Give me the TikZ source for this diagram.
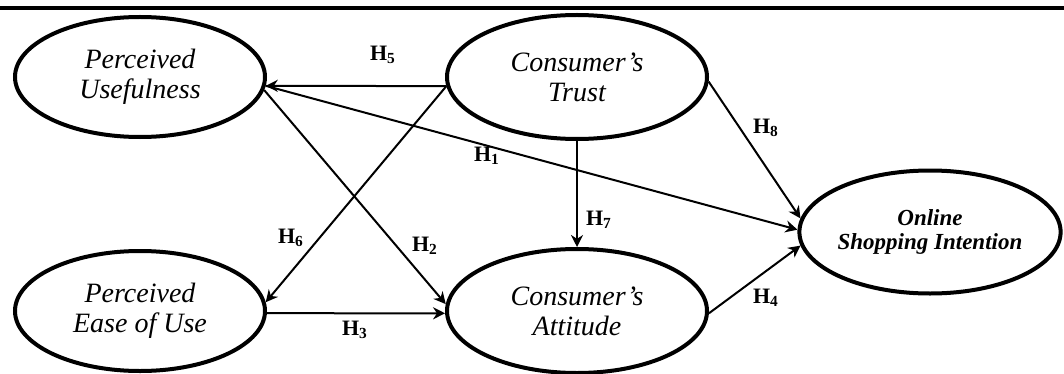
\documentclass[tikz,border=0pt]{standalone}
\usepackage{fontspec}
\setmainfont{Liberation Serif}
\usetikzlibrary{shapes.geometric}
\usetikzlibrary{arrows.meta}

\begin{document}
\begin{tikzpicture}[x=0.5pt, y=-0.5pt,
        construct/.style={ellipse, draw=black, line width=2pt, inner sep=0pt, align=center,
            font=\fontsize{14}{15}\selectfont\itshape},
        small/.style={minimum width=125pt, minimum height=60pt},
        large/.style={minimum width=130pt, minimum height=62pt},
        path/.style={-{Stealth[length=6pt, width=6pt]}, line width=1pt},
        hyp/.style={font=\fontsize{11}{11}\selectfont\bfseries, inner sep=0pt}]
    \useasboundingbox (0, 0) rectangle (1064, 374);
    \draw[line width=2pt] (0, 8) -- (1064, 8);
    \node[construct, small] (pu) at (140, 77) {Perceived\\Usefulness};
    \node[construct, large] (ct) at (577, 77) {Consumer’s\\Trust};
    \node[construct, small] (peu) at (140, 311) {Perceived\\Ease of Use};
    \node[construct, large] (ca) at (577, 311) {Consumer’s\\Attitude};
    \node[construct, minimum width=121pt, minimum height=61.5pt,
        font=\fontsize{11.5}{12}\selectfont\bfseries\itshape] (osi) at (930, 232) {Online\\Shopping Intention};
    \draw[path] (ct.184) -- (pu.-4);
    \draw[path] (ct.184) -- (peu.4);
    \draw[path] (pu.-6) -- (ca.177);
    \draw[path] (pu.-4) -- (osi.179);
    \draw[path] (peu.-1) -- (ca.181);
    \draw[path] (ct.south) -- (ca.north);
    \draw[path] (ct.-2) -- (osi.174);
    \draw[path] (ca.-1) -- (osi.186);
    \node[hyp] (h1) at (487, 156) {H\textsubscript{1}};
    \node[hyp] (h2) at (425, 246) {H\textsubscript{2}};
    \node[hyp] (h3) at (355, 330) {H\textsubscript{3}};
    \node[hyp] (h4) at (766, 298) {H\textsubscript{4}};
    \node[hyp] (h5) at (383, 55) {H\textsubscript{5}};
    \node[hyp] (h6) at (291, 238) {H\textsubscript{6}};
    \node[hyp] (h7) at (599, 220) {H\textsubscript{7}};
    \node[hyp] (h8) at (766, 128) {H\textsubscript{8}};
\end{tikzpicture}
\end{document}
